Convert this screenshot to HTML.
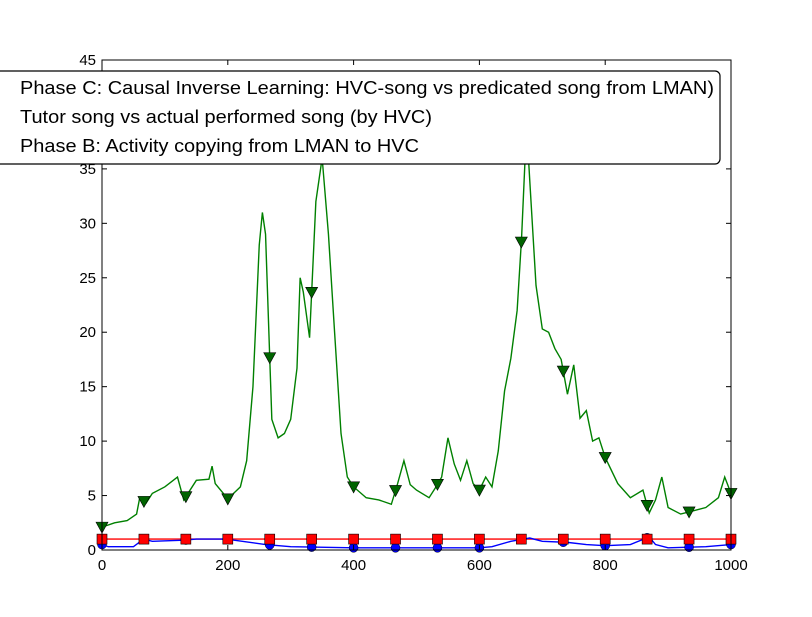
<!DOCTYPE html>
<html><head><meta charset="utf-8"><style>
body{margin:0;background:#fff;}
svg text{font-family:"Liberation Sans",sans-serif;}
</style></head><body>
<svg id="chart" width="812" height="612" xmlns="http://www.w3.org/2000/svg">
<rect width="812" height="612" fill="#fff"/>
<g id="plot"></g>
<g id="axes"></g>
<g id="legend">
<rect x="-10" y="71" width="730" height="93" rx="5" fill="#fff" stroke="#000" stroke-width="1.2"/>
<text x="20" y="94" font-size="18" textLength="694" lengthAdjust="spacingAndGlyphs">Phase C: Causal Inverse Learning: HVC-song vs predicated song from LMAN)</text>
<text x="20" y="123" font-size="18" textLength="412" lengthAdjust="spacingAndGlyphs">Tutor song vs actual performed song (by HVC)</text>
<text x="20" y="152" font-size="18" textLength="399" lengthAdjust="spacingAndGlyphs">Phase B: Activity copying from LMAN to HVC</text>
</g>
</svg>
<script>
const greenX=[0,20,40,55,60,70,80,100,120,130,150,170,175,180,200,220,230,240,250,255,260,270,280,290,300,310,315,320,330,340,350,360,370,380,390,400,420,440,460,470,480,490,500,520,530,540,550,560,570,580,590,600,610,620,630,640,650,660,667,675,680,690,700,710,720,730,740,750,760,770,780,790,800,820,840,860,870,880,890,900,920,940,960,980,990,1000];
const greenY=[2.1,2.5,2.7,3.3,4.8,4.3,5.2,5.8,6.7,4.6,6.4,6.5,7.7,6.1,4.7,5.8,8.2,15,28,31,29,12,10.3,10.7,12,16.7,25,23.7,19.5,32,36,29,19.8,10.7,6.7,5.8,4.8,4.6,4.2,6.1,8.2,6,5.5,4.8,5.7,6.7,10.3,7.9,6.4,8.2,6.1,5.5,6.7,5.8,9.1,14.6,17.6,22,28.6,39,34,24.3,20.3,20,18.5,17.5,14.3,17,12.1,12.8,10,10.3,8.5,6.1,4.8,5.5,3.4,4.6,6.7,3.9,3.3,3.6,3.9,4.8,6.7,5.2];
const blueX=[0,10,20,50,66,80,130,150,200,210,260,300,400,500,600,620,650,680,700,740,770,800,840,870,880,900,960,1000];
const blueY=[0.5,0.3,0.3,0.3,1.0,0.8,0.9,1.0,1.0,0.9,0.5,0.3,0.2,0.2,0.2,0.3,0.8,1.1,0.8,0.7,0.5,0.4,0.5,1.2,0.5,0.2,0.3,0.5];
const redValue=1;
const xTicks=[0,200,400,600,800,1000];
const yTicks=[0,5,10,15,20,25,30,35,45];
const NS="http://www.w3.org/2000/svg";
const X0=102,X1=731,Y0=550,Y1=60,XMAX=1000,YMAX=45;
const sx=v=>X0+(v/XMAX)*(X1-X0);
const sy=v=>Y0-(v/YMAX)*(Y0-Y1);
function interp(xs,ys,x){for(let i=0;i<xs.length-1;i++){if(x>=xs[i]&&x<=xs[i+1]){const t=(x-xs[i])/(xs[i+1]-xs[i]);return ys[i]+t*(ys[i+1]-ys[i]);}}return ys[ys.length-1];}
function mk(tag,attrs,parent){const e=document.createElementNS(NS,tag);for(const k in attrs)e.setAttribute(k,attrs[k]);parent.appendChild(e);return e;}
const plot=document.getElementById('plot');
const axes=document.getElementById('axes');
const clip=mk('clipPath',{id:'c'},plot);mk('rect',{x:X0-8,y:Y1,width:X1-X0+16,height:Y0-Y1+8},clip);
const g=mk('g',{'clip-path':'url(#c)'},plot);
const markXs=[];for(let i=0;i<=15;i++)markXs.push(i*1000/15);
const gp=mk('polyline',{points:greenX.map((x,i)=>sx(x)+','+sy(greenY[i])).join(' '),fill:'none',stroke:'#008000','stroke-width':1.4},g);


const rl=mk('line',{x1:X0,x2:X1,y1:sy(redValue),y2:sy(redValue),stroke:'#ff0000','stroke-width':1.4},g);


const bp=mk('polyline',{points:blueX.map((x,i)=>sx(x)+','+sy(blueY[i])).join(' '),fill:'none',stroke:'#0000ff','stroke-width':1.4},g);


markXs.forEach((x,i)=>{
 const px=sx(x);
 const by=sy(interp(blueX,blueY,x));
 const c=mk('circle',{cx:px,cy:by,r:4.5,fill:'#0000ff',stroke:'#000','stroke-width':0.5},g);
 
 
 const ry=sy(redValue);
 const r=mk('rect',{x:px-5,y:ry-5,width:10,height:10,fill:'#ff0000',stroke:'#000','stroke-width':0.6},g);
 
 
 const gy=sy(interp(greenX,greenY,x));
 const t=mk('polygon',{points:`${px-6},${gy-5} ${px+6},${gy-5} ${px},${gy+6}`,fill:'#006400',stroke:'#000','stroke-width':0.6},g);
 
 
});
const frame=mk('rect',{x:X0,y:Y1,width:X1-X0,height:Y0-Y1,fill:'none',stroke:'#000','stroke-width':1},axes);


xTicks.forEach(v=>{
 const px=sx(v);
 mk('line',{x1:px,x2:px,y1:Y0,y2:Y0-5,stroke:'#000'},axes);
 mk('line',{x1:px,x2:px,y1:Y1,y2:Y1+5,stroke:'#000'},axes);
 const t=mk('text',{x:px,y:Y0+20,'font-size':15,'text-anchor':'middle'},axes);
 t.textContent=v;
 
 
});
yTicks.forEach(v=>{
 const py=sy(v);
 mk('line',{x1:X0,x2:X0+5,y1:py,y2:py,stroke:'#000'},axes);
 mk('line',{x1:X1,x2:X1-5,y1:py,y2:py,stroke:'#000'},axes);
 const t=mk('text',{x:X0-6,y:py+5,'font-size':15,'text-anchor':'end'},axes);
 t.textContent=v;
 
 
});
</script>
</body></html>
